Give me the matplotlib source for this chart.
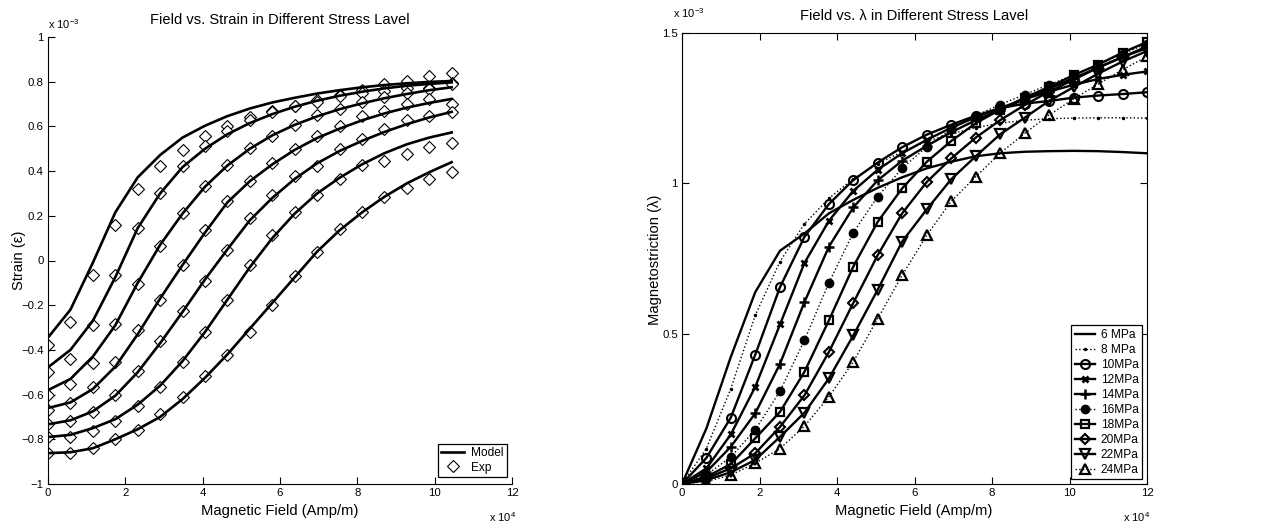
import matplotlib
matplotlib.use('Agg')
import matplotlib.pyplot as plt

# ---- data (field in 1e4 A/m, strain / lambda in 1e-3) ----
field_left = [0.0, 0.58, 1.16, 1.74, 2.32, 2.90, 3.48, 4.06, 4.64, 5.22,
              5.80, 6.38, 6.96, 7.54, 8.12, 8.70, 9.28, 9.86, 10.44]

model_1 = [-0.345, -0.22, -0.01, 0.215, 0.372, 0.472, 0.55, 0.603, 0.646, 0.68,
           0.707, 0.728, 0.747, 0.762, 0.775, 0.785, 0.793, 0.799, 0.803]
model_2 = [-0.478, -0.40, -0.27, -0.075, 0.145, 0.30, 0.418, 0.50, 0.565, 0.615,
           0.655, 0.688, 0.715, 0.737, 0.755, 0.77, 0.782, 0.79, 0.797]
model_3 = [-0.58, -0.53, -0.43, -0.29, -0.10, 0.07, 0.21, 0.33, 0.425, 0.50,
           0.56, 0.607, 0.645, 0.677, 0.703, 0.726, 0.745, 0.762, 0.775]
model_4 = [-0.66, -0.635, -0.575, -0.475, -0.33, -0.17, -0.02, 0.125, 0.26, 0.355,
           0.43, 0.495, 0.548, 0.59, 0.627, 0.658, 0.684, 0.705, 0.723]
model_5 = [-0.733, -0.715, -0.675, -0.605, -0.50, -0.37, -0.23, -0.085, 0.05, 0.18,
           0.28, 0.365, 0.435, 0.49, 0.535, 0.575, 0.61, 0.64, 0.665]
model_6 = [-0.79, -0.78, -0.75, -0.71, -0.645, -0.56, -0.45, -0.32, -0.175, -0.03,
           0.10, 0.21, 0.30, 0.37, 0.43, 0.48, 0.52, 0.55, 0.573]
model_7 = [-0.862, -0.858, -0.84, -0.80, -0.755, -0.70, -0.62, -0.525, -0.42, -0.305,
           -0.19, -0.075, 0.04, 0.135, 0.215, 0.285, 0.345, 0.395, 0.44]

exp_1 = [-0.378, -0.276, -0.067, 0.159, 0.319, 0.425, 0.496, 0.558, 0.60, 0.64,
         0.67, 0.69, 0.719, 0.739, 0.765, 0.79, 0.805, 0.825, 0.837]
exp_2 = [-0.497, -0.44, -0.287, -0.067, 0.146, 0.302, 0.423, 0.513, 0.58, 0.63,
         0.665, 0.69, 0.71, 0.735, 0.75, 0.76, 0.773, 0.77, 0.796]
exp_3 = [-0.601, -0.552, -0.46, -0.284, -0.107, 0.067, 0.211, 0.334, 0.428, 0.502,
         0.559, 0.607, 0.65, 0.68, 0.707, 0.733, 0.751, 0.766, 0.788]
exp_4 = [-0.669, -0.637, -0.567, -0.455, -0.313, -0.176, -0.022, 0.136, 0.264, 0.354,
         0.437, 0.50, 0.559, 0.603, 0.647, 0.67, 0.699, 0.724, 0.702]
exp_5 = [-0.731, -0.719, -0.679, -0.604, -0.493, -0.358, -0.227, -0.09, 0.047, 0.188,
         0.292, 0.376, 0.422, 0.50, 0.544, 0.588, 0.63, 0.647, 0.665]
exp_6 = [-0.791, -0.791, -0.764, -0.716, -0.649, -0.564, -0.452, -0.321, -0.176, -0.019,
         0.114, 0.215, 0.295, 0.363, 0.428, 0.447, 0.477, 0.507, 0.524]
exp_7 = [-0.863, -0.861, -0.84, -0.80, -0.757, -0.687, -0.612, -0.519, -0.425, -0.318,
         -0.199, -0.069, 0.037, 0.139, 0.215, 0.284, 0.324, 0.366, 0.394]

field_right = [0.0, 0.63, 1.26, 1.89, 2.53, 3.16, 3.79, 4.42, 5.05, 5.68,
               6.32, 6.95, 7.58, 8.21, 8.84, 9.47, 10.11, 10.74, 11.37, 12.0]

lam_6 = [0, 0.185, 0.423, 0.638, 0.776, 0.833, 0.90, 0.945, 0.985, 1.02,
         1.05, 1.072, 1.09, 1.10, 1.105, 1.107, 1.108, 1.107, 1.104, 1.10]
lam_8 = [0, 0.118, 0.317, 0.561, 0.74, 0.865, 0.95, 1.015, 1.065, 1.105,
         1.14, 1.165, 1.185, 1.20, 1.21, 1.215, 1.217, 1.218, 1.218, 1.217]
lam_10 = [0, 0.087, 0.221, 0.43, 0.655, 0.822, 0.931, 1.011, 1.069, 1.12,
          1.162, 1.195, 1.225, 1.25, 1.265, 1.274, 1.285, 1.292, 1.297, 1.303]
lam_12 = [0, 0.052, 0.165, 0.323, 0.531, 0.735, 0.875, 0.975, 1.045, 1.10,
          1.145, 1.185, 1.22, 1.25, 1.28, 1.305, 1.328, 1.347, 1.361, 1.372]
lam_14 = [0, 0.04, 0.124, 0.235, 0.40, 0.605, 0.789, 0.92, 1.01, 1.075,
          1.125, 1.17, 1.21, 1.245, 1.28, 1.315, 1.35, 1.385, 1.42, 1.455]
lam_16 = [0, 0.03, 0.09, 0.18, 0.309, 0.478, 0.669, 0.836, 0.956, 1.05,
          1.122, 1.18, 1.225, 1.262, 1.295, 1.328, 1.36, 1.395, 1.43, 1.465]
lam_18 = [0, 0.024, 0.066, 0.152, 0.24, 0.373, 0.544, 0.723, 0.872, 0.983,
          1.072, 1.141, 1.20, 1.245, 1.285, 1.32, 1.36, 1.395, 1.435, 1.47]
lam_20 = [0, 0.019, 0.052, 0.102, 0.19, 0.295, 0.439, 0.602, 0.761, 0.90,
          1.005, 1.083, 1.152, 1.21, 1.26, 1.305, 1.345, 1.385, 1.42, 1.45]
lam_22 = [0, 0.013, 0.039, 0.08, 0.157, 0.237, 0.351, 0.494, 0.646, 0.806,
          0.914, 1.014, 1.09, 1.163, 1.218, 1.274, 1.32, 1.365, 1.405, 1.44]
lam_24 = [0, 0.008, 0.03, 0.069, 0.118, 0.192, 0.29, 0.406, 0.55, 0.694,
          0.828, 0.941, 1.022, 1.10, 1.166, 1.227, 1.281, 1.33, 1.378, 1.422]

stress_labels = ['6 MPa', '8 MPa', '10MPa', '12MPa', '14MPa',
                 '16MPa', '18MPa', '20MPa', '22MPa', '24MPa']

# ---- fonts ----
plt.rcParams['font.family'] = ['Liberation Sans', 'DejaVu Sans']
plt.rcParams['mathtext.fontset'] = 'custom'
plt.rcParams['mathtext.rm'] = 'Liberation Sans'
plt.rcParams['axes.linewidth'] = 0.8

W, H = 1284, 529
fig = plt.figure(figsize=(W / 100, H / 100), dpi=100)

def px(x, y):
    return x / W, 1 - y / H

TICK = 8.2
LAB = 10.6

# ---------------- left: strain ----------------
ax1 = fig.add_axes([48 / W, 1 - 484 / H, 464 / W, 447 / H])
models = [model_1, model_2, model_3, model_4, model_5, model_6, model_7]
exps = [exp_1, exp_2, exp_3, exp_4, exp_5, exp_6, exp_7]
for i, (m, e) in enumerate(zip(models, exps)):
    ax1.plot(field_left, m, color='black', lw=1.9,
             label='Model' if i == 0 else None, zorder=3)
    ax1.plot(field_left, e, ls='none', marker='D', ms=6.5, mfc='white', mec='black',
             mew=0.8, label='Exp' if i == 0 else None, zorder=2)
ax1.set_xlim(0, 12)
ax1.set_ylim(-1, 1)
ax1.set_xticks([0, 2, 4, 6, 8, 10, 12])
ax1.set_yticks([-1, -0.8, -0.6, -0.4, -0.2, 0, 0.2, 0.4, 0.6, 0.8, 1])
ax1.set_yticklabels(['\u22121', '\u22120.8', '\u22120.6', '\u22120.4', '\u22120.2', '0',
                     '0.2', '0.4', '0.6', '0.8', '1'])
ax1.spines['top'].set_visible(False)
ax1.spines['right'].set_visible(False)
ax1.tick_params(direction='in', length=5, width=0.8, labelsize=TICK, pad=3)
leg1 = ax1.legend(loc='lower right', bbox_to_anchor=(0.995, 0.01), fontsize=8.6,
                  frameon=True, fancybox=False, edgecolor='black', framealpha=1,
                  handlelength=1.9, handletextpad=0.6, borderpad=0.3, labelspacing=0.2,
                  borderaxespad=0.2)
leg1.get_frame().set_linewidth(0.9)

fig.text(*px(280, 20), 'Field vs. Strain in Different Stress Lavel', ha='center',
         va='center', fontsize=LAB)
fig.text(*px(48, 24), 'x 10$^{\\mathrm{-3}}$', ha='left', va='center', fontsize=8)
fig.text(*px(489, 517), 'x 10$^{\\mathrm{4}}$', ha='left', va='center', fontsize=8)
fig.text(*px(280, 511), 'Magnetic Field (Amp/m)', ha='center', va='center', fontsize=LAB)
fig.text(*px(19, 260), 'Strain (\u03b5)', ha='center', va='center', rotation=90,
         fontsize=LAB)

# ---------------- right: magnetostriction ----------------
ax2 = fig.add_axes([682 / W, 1 - 484 / H, 465 / W, 451 / H])
series = [lam_6, lam_8, lam_10, lam_12, lam_14, lam_16, lam_18, lam_20, lam_22, lam_24]
styles = [
    dict(ls='-', lw=1.7, marker=None),
    dict(ls=':', lw=1.0, marker='.', ms=3),
    dict(ls='-', lw=1.7, marker='o', ms=6.5, mfc='none', mew=1.5),
    dict(ls='-', lw=1.7, marker='x', ms=4.5, mew=2.0),
    dict(ls='-', lw=1.7, marker='+', ms=6.5, mew=1.8),
    dict(ls=':', lw=1.0, marker='o', ms=6, mfc='black', mew=1.0),
    dict(ls='-', lw=1.7, marker='s', ms=5.5, mfc='none', mew=1.6),
    dict(ls='-', lw=1.7, marker='D', ms=5.5, mfc='none', mew=1.5),
    dict(ls='-', lw=1.7, marker='v', ms=7, mfc='none', mew=1.6),
    dict(ls=':', lw=1.0, marker='^', ms=7, mfc='none', mew=1.6),
]
for lam, lab, st in zip(series, stress_labels, styles):
    ax2.plot(field_right, lam, color='black', mec='black', label=lab, **st)
ax2.set_xlim(0, 12)
ax2.set_ylim(0, 1.5)
ax2.set_xticks([0, 2, 4, 6, 8, 10, 12])
ax2.set_yticks([0, 0.5, 1, 1.5])
ax2.set_yticklabels(['0', '0.5', '1', '1.5'])
ax2.tick_params(direction='in', length=5, width=0.8, labelsize=TICK, pad=3,
                top=True, right=True)
leg2 = ax2.legend(loc='lower right', bbox_to_anchor=(0.995, 0.005), fontsize=8.6,
                  frameon=True, fancybox=False, edgecolor='black', framealpha=1,
                  handlelength=1.7, handletextpad=0.5, borderpad=0.3, labelspacing=0.25,
                  borderaxespad=0.2)
leg2.get_frame().set_linewidth(0.9)

fig.text(*px(914, 16), 'Field vs. \u03bb in Different Stress Lavel', ha='center',
         va='center', fontsize=LAB)
fig.text(*px(673, 13), 'x 10$^{\\mathrm{-3}}$', ha='left', va='center', fontsize=8)
fig.text(*px(1123, 517), 'x 10$^{\\mathrm{4}}$', ha='left', va='center', fontsize=8)
fig.text(*px(914, 511), 'Magnetic Field (Amp/m)', ha='center', va='center', fontsize=LAB)
fig.text(*px(655, 260), 'Magnetostriction (\u03bb)', ha='center', va='center',
         rotation=90, fontsize=LAB)

fig.savefig('out.png', dpi=100)
